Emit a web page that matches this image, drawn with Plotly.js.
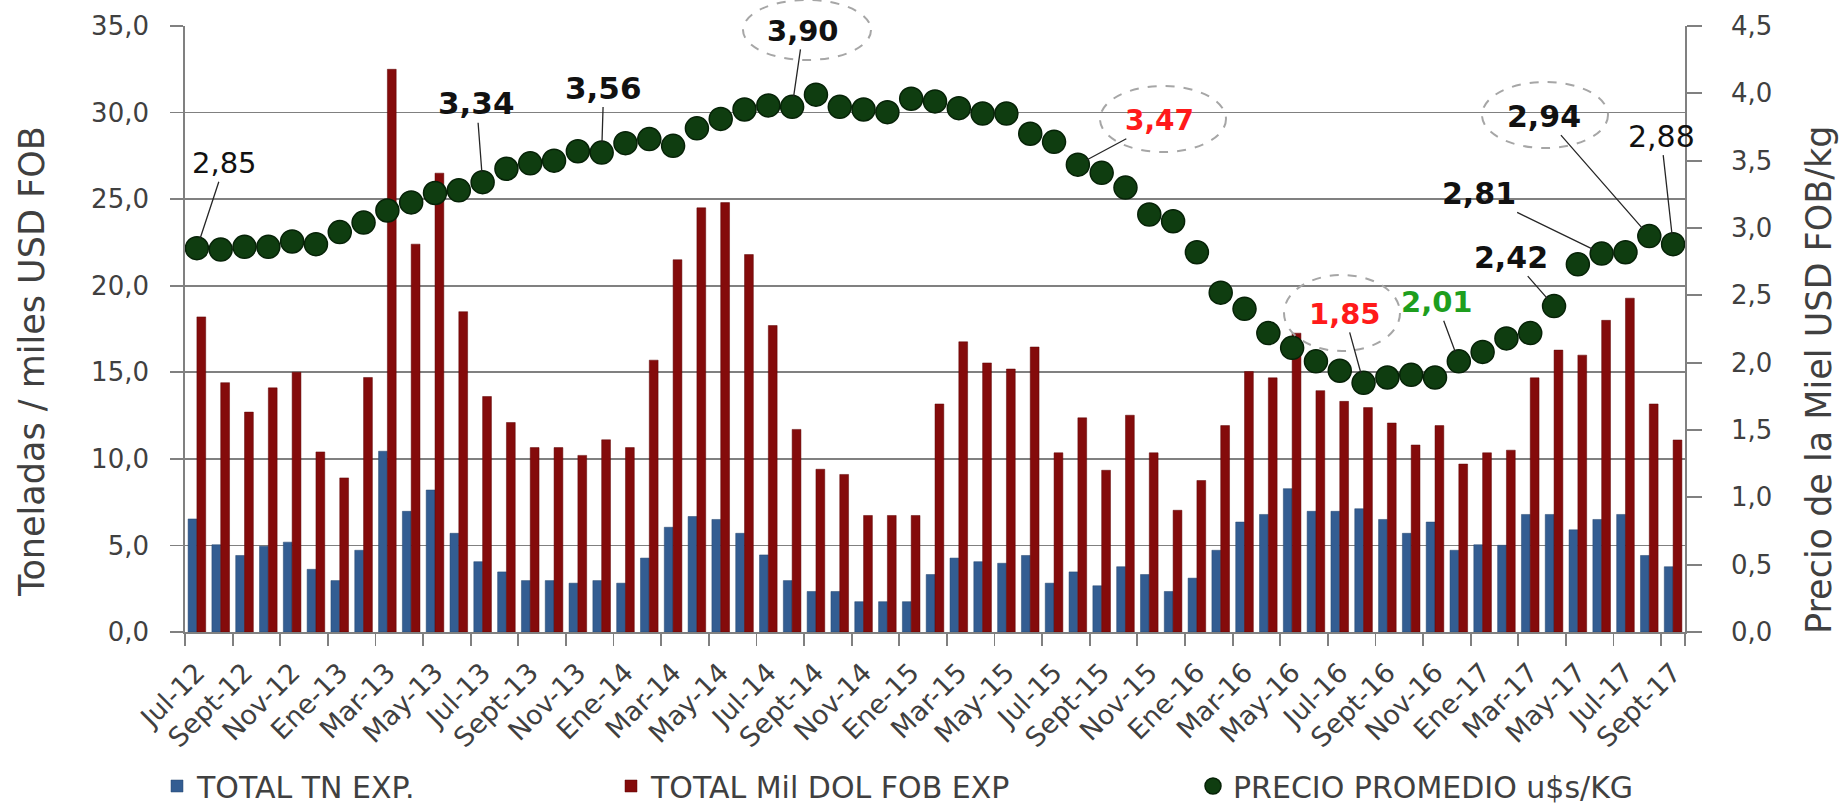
<!DOCTYPE html>
<html>
<head>
<meta charset="utf-8">
<script src="https://cdn.plot.ly/plotly-3.0.1.min.js"></script>
<style>
html,body{margin:0;padding:0;background:#ffffff;overflow:hidden;}
#chart{width:1845px;height:806px;}
</style>
</head>
<body>
<div id="chart"></div>
<script>
// ---- data ----
const months = ['Jul-12','Ago-12','Sept-12','Oct-12','Nov-12','Dic-12',
  'Ene-13','Feb-13','Mar-13','Abr-13','May-13','Jun-13','Jul-13','Ago-13','Sept-13','Oct-13','Nov-13','Dic-13',
  'Ene-14','Feb-14','Mar-14','Abr-14','May-14','Jun-14','Jul-14','Ago-14','Sept-14','Oct-14','Nov-14','Dic-14',
  'Ene-15','Feb-15','Mar-15','Abr-15','May-15','Jun-15','Jul-15','Ago-15','Sept-15','Oct-15','Nov-15','Dic-15',
  'Ene-16','Feb-16','Mar-16','Abr-16','May-16','Jun-16','Jul-16','Ago-16','Sept-16','Oct-16','Nov-16','Dic-16',
  'Ene-17','Feb-17','Mar-17','Abr-17','May-17','Jun-17','Jul-17','Ago-17','Sept-17'];

const totalTn = [6.53,5.04,4.42,4.95,5.19,3.62,2.97,4.72,10.44,6.97,
  8.2,5.7,4.06,3.47,2.97,2.97,2.82,2.97,2.82,4.27,
  6.05,6.67,6.5,5.7,4.45,2.97,2.34,2.34,1.75,1.75,
  1.75,3.32,4.27,4.06,3.97,4.42,2.82,3.47,2.67,3.77,
  3.32,2.34,3.11,4.72,6.35,6.79,8.28,6.97,6.97,7.12,
  6.5,5.7,6.35,4.72,5.04,5.01,6.79,6.79,5.9,6.5,
  6.79,4.42,3.77];

const totalMilDol = [18.2,14.4,12.7,14.1,15.0,10.4,8.9,14.7,32.5,22.4,
  26.5,18.5,13.6,12.1,10.65,10.65,10.2,11.1,10.65,15.7,
  21.5,24.5,24.8,21.8,17.7,11.7,9.4,9.1,6.73,6.73,
  6.73,13.17,16.76,15.54,15.19,16.46,10.35,12.37,9.34,12.52,
  10.35,7.03,8.75,11.92,15.04,14.68,17.26,13.94,13.32,12.96,
  12.07,10.8,11.92,9.7,10.35,10.5,14.68,16.28,15.99,18.0,
  19.28,13.17,11.09];

const precio = [2.85,2.84,2.86,2.86,2.90,2.88,2.97,3.04,3.13,3.19,
  3.26,3.28,3.34,3.44,3.48,3.50,3.57,3.56,3.63,3.66,
  3.61,3.74,3.81,3.88,3.91,3.90,3.99,3.90,3.88,3.86,
  3.96,3.94,3.89,3.85,3.85,3.70,3.64,3.47,3.41,3.30,
  3.10,3.05,2.82,2.52,2.40,2.22,2.11,2.01,1.94,1.85,
  1.89,1.91,1.89,2.01,2.08,2.18,2.22,2.42,2.73,2.81,
  2.82,2.94,2.88];

const seriesNames = ['TOTAL TN EXP.', 'TOTAL Mil DOL FOB EXP', 'PRECIO PROMEDIO u$s/KG'];
const yTitleLeft = 'Toneladas / miles USD FOB';
const yTitleRight = 'Precio de la Miel USD FOB/kg';

// labelled price points (index into months)
const labelledIdx = [0, 12, 17, 25, 37, 49, 53, 57, 59, 61, 62];

// ---- styling / placement ----
const FONT = 'DejaVu Sans';
const GRID = '#808080';
const TXT = '#404040';
const idx = months.map((m, i) => i);
const tickIdx = idx.filter(i => i % 2 === 0);
const tickText = tickIdx.map(i => months[i]);
const boundaries = tickIdx.map(i => i - 0.5).concat([months.length - 0.5]);

// label placement: pixel offsets of text centre from the point, colour, weight, size
const labelStyle = {
  0:  {ax: 28,   ay: -85,  color: '#111', weight: 400, size: 29},
  12: {ax: -6,   ay: -79,  color: '#111', weight: 700, size: 31},
  17: {ax: 2,    ay: -65,  color: '#111', weight: 700, size: 31},
  25: {ax: 11,   ay: -76,  color: '#111', weight: 700, size: 29},
  37: {ax: 82,   ay: -44,  color: '#FF1A1A', weight: 700, size: 28},
  49: {ax: -19,  ay: -69,  color: '#FF1A1A', weight: 700, size: 29},
  53: {ax: -22,  ay: -59,  color: '#1E9E1E', weight: 700, size: 29},
  57: {ax: -43,  ay: -49,  color: '#111', weight: 700, size: 30},
  59: {ax: -123, ay: -60,  color: '#111', weight: 700, size: 30},
  61: {ax: -105, ay: -120, color: '#111', weight: 700, size: 30},
  62: {ax: -12,  ay: -108, color: '#111', weight: 400, size: 30}
};

const fmt = v => v.toFixed(2).replace('.', ',');

const annotations = labelledIdx.map(i => {
  const s = labelStyle[i];
  return {
    x: i, y: precio[i], xref: 'x', yref: 'y2',
    text: fmt(precio[i]),
    showarrow: true, arrowhead: 0, arrowwidth: 1.3, arrowcolor: '#262626',
    ax: s.ax, ay: s.ay, standoff: 10,
    font: {family: FONT, size: s.size, color: s.color, weight: s.weight}
  };
});

// axis titles
const plotL = 185, plotR = 1685, plotT = 26, plotB = 632;
const px2x = px => (px - plotL) / (plotR - plotL);
const px2y = py => (plotB - py) / (plotB - plotT);
annotations.push({
  text: yTitleLeft, xref: 'paper', yref: 'paper', x: px2x(32), y: px2y(362),
  textangle: -90, showarrow: false, xanchor: 'center', yanchor: 'middle',
  font: {family: FONT, size: 35, color: TXT}
});
annotations.push({
  text: yTitleRight, xref: 'paper', yref: 'paper', x: px2x(1819), y: px2y(380),
  textangle: -90, showarrow: false, xanchor: 'center', yanchor: 'middle',
  font: {family: FONT, size: 35, color: TXT}
});

// dashed ellipses round some labels (pixel centre, radii)
const ellipses = [[807, 30, 64, 30], [1163, 119, 63, 33], [1342, 313, 58, 38], [1545, 115, 63, 33]];
const shapes = ellipses.map(([cx, cy, rx, ry]) => ({
  type: 'circle', xref: 'paper', yref: 'paper',
  x0: px2x(cx - rx), x1: px2x(cx + rx), y0: px2y(cy + ry), y1: px2y(cy - ry),
  line: {color: '#A6A6A6', width: 2, dash: 'dash'}, layer: 'above'
}));

const traces = [
  {type: 'bar', name: seriesNames[0], x: idx, y: totalTn, yaxis: 'y', legend: 'legend',
   marker: {color: '#335D92', line: {color: '#24456D', width: 0.5}}, hoverinfo: 'skip'},
  {type: 'bar', name: seriesNames[1], x: idx, y: totalMilDol, yaxis: 'y', legend: 'legend2',
   marker: {color: '#840B0B', line: {color: '#5E0505', width: 0.5}}, hoverinfo: 'skip'},
  {type: 'scatter', mode: 'markers', name: seriesNames[2], x: idx, y: precio, yaxis: 'y2', legend: 'legend3',
   marker: {symbol: 'circle', size: 23, color: '#0F3D10', line: {color: '#062207', width: 1.5}}, hoverinfo: 'skip'}
];

const legendBase = {
  orientation: 'h', xanchor: 'left', yanchor: 'middle', y: px2y(786),
  font: {family: FONT, size: 30, color: TXT}, bgcolor: 'rgba(0,0,0,0)', itemwidth: 30
};

const layout = {
  width: 1845, height: 806,
  margin: {l: plotL, r: 1845 - plotR, t: plotT, b: 806 - plotB, pad: 0, autoexpand: false},
  paper_bgcolor: '#ffffff', plot_bgcolor: '#ffffff',
  separators: ',.',
  font: {family: FONT, color: TXT},
  showlegend: true,
  barmode: 'group', bargap: 0.26, bargroupgap: 0,
  xaxis: {
    range: [-0.5, months.length - 0.5], tickmode: 'array', tickvals: tickIdx, ticktext: tickText,
    tickangle: -45, ticks: '', ticklabelstandoff: 12,
    tickfont: {family: FONT, size: 27, color: TXT},
    showline: true, linecolor: GRID, linewidth: 1.8, showgrid: false, zeroline: false, automargin: false,
    minor: {tickmode: 'array', tickvals: boundaries, ticks: 'outside', ticklen: 12, tickwidth: 1.8, tickcolor: GRID, showgrid: false}
  },
  yaxis: {
    range: [0, 35], tickmode: 'linear', tick0: 0, dtick: 5, tickformat: '.1f',
    showgrid: true, gridcolor: GRID, gridwidth: 1.8, zeroline: false,
    showline: true, linecolor: GRID, linewidth: 1.8,
    ticks: 'outside', ticklen: 13, tickwidth: 1.8, tickcolor: GRID, ticklabelstandoff: 16,
    tickfont: {family: FONT, size: 26, color: TXT}, automargin: false
  },
  yaxis2: {
    overlaying: 'y', side: 'right', range: [0, 4.5], tickmode: 'linear', tick0: 0, dtick: 0.5, tickformat: '.1f',
    showgrid: false, zeroline: false, showline: true, linecolor: GRID, linewidth: 1.8,
    ticks: 'outside', ticklen: 15, tickwidth: 1.8, tickcolor: GRID, ticklabelstandoff: 24,
    tickfont: {family: FONT, size: 26, color: TXT}, automargin: false
  },
  legend: Object.assign({}, legendBase, {x: px2x(157)}),
  legend2: Object.assign({}, legendBase, {x: px2x(611)}),
  legend3: Object.assign({}, legendBase, {x: px2x(1193)}),
  annotations: annotations,
  shapes: shapes
};

Plotly.newPlot('chart', traces, layout, {displayModeBar: false, staticPlot: true});
</script>
</body>
</html>
